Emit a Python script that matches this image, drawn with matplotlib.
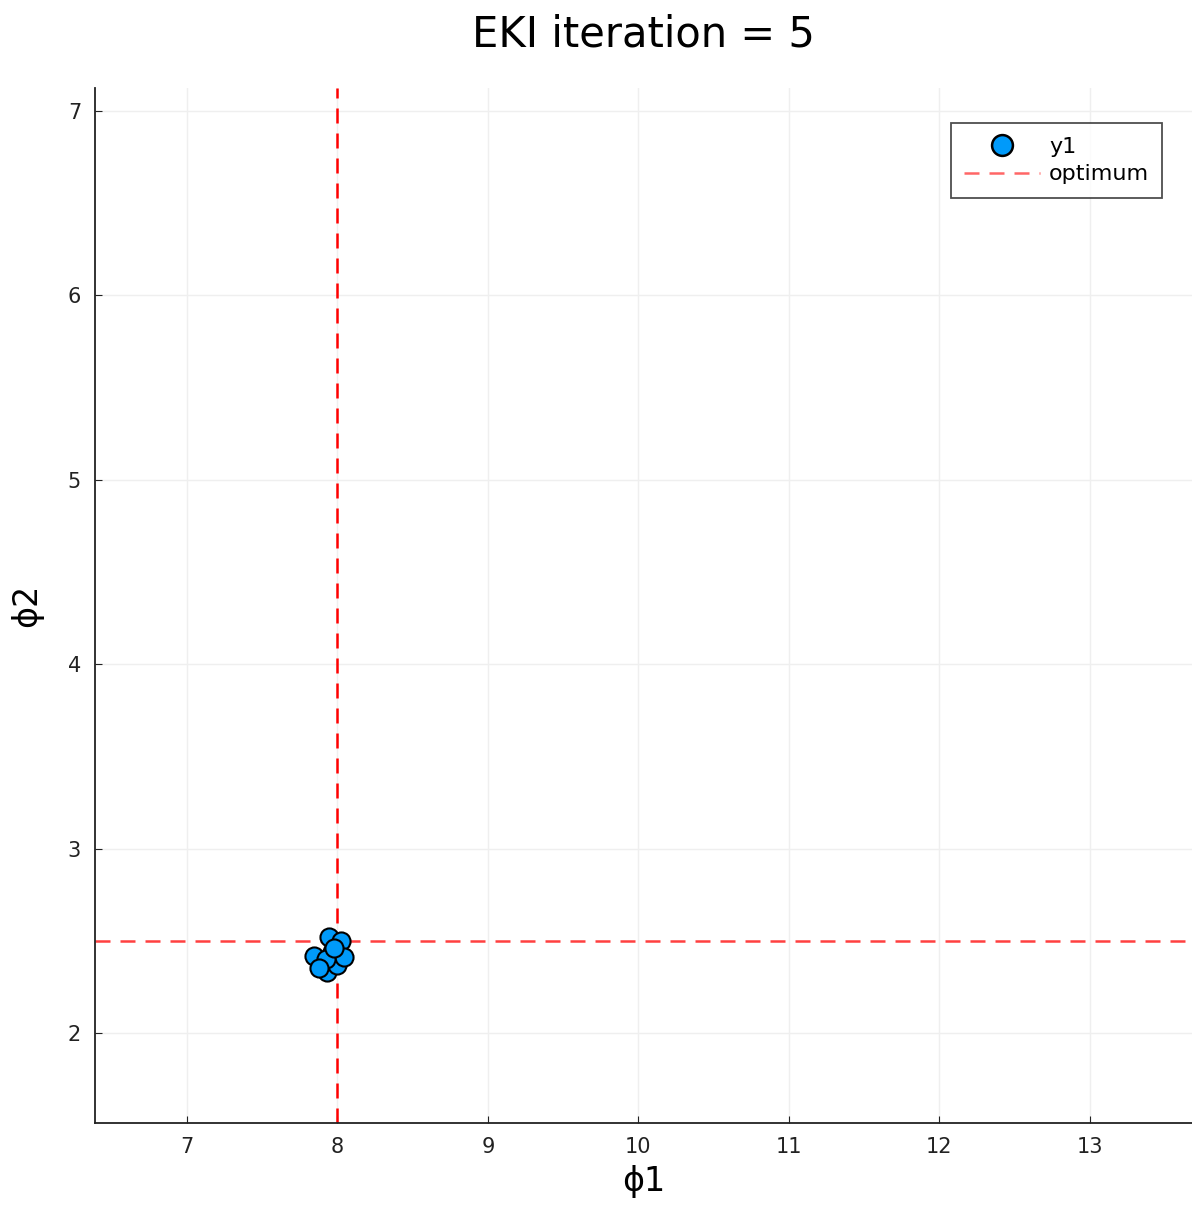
import matplotlib
matplotlib.use("Agg")
import matplotlib.pyplot as plt
from matplotlib.lines import Line2D

phi1 = [7.947, 7.847, 7.967, 8.027, 7.934, 8.0, 8.047, 7.927, 7.88, 7.98]
phi2 = [2.52, 2.42, 2.44, 2.50, 2.33, 2.37, 2.41, 2.40, 2.35, 2.46]
opt_x = 8.0
opt_y = 2.5
xticks = [7, 8, 9, 10, 11, 12, 13]
yticks = [2, 3, 4, 5, 6, 7]

fig = plt.figure(figsize=(11.92, 12.07), dpi=100)
ax = fig.add_axes([95/1192, 84/1207, 1 - 95/1192, (1123-88)/1207])
ax.set_xlim(6.389, 13.68)
ax.set_ylim(1.512, 7.125)
ax.grid(True, color="#efefef", linewidth=1)
ax.set_axisbelow(True)
for s in ["top", "right"]:
    ax.spines[s].set_visible(False)
for s in ["left", "bottom"]:
    ax.spines[s].set_color("#222222")
    ax.spines[s].set_linewidth(1.3)

ax.axvline(opt_x, color="red", linestyle=(0, (6, 4)), linewidth=1.8, zorder=2)
ax.axhline(opt_y, color="red", linestyle=(0, (6, 4)), linewidth=1.8, alpha=0.75, zorder=2)
ax.scatter(phi1, phi2, s=170, color="#009AFA", edgecolors="black", linewidths=1.5, zorder=3)

ax.set_xticks(xticks)
ax.set_yticks(yticks)
ax.tick_params(labelsize=15, length=5, direction="in", colors="#222222", pad=10)
ax.set_xlabel("ϕ1", fontsize=24, labelpad=6)
ax.set_ylabel("ϕ2", fontsize=24, labelpad=18)
ax.set_title("EKI iteration = 5", fontsize=30, pad=30)

handles = [
    Line2D([], [], marker="o", linestyle="none", markersize=15, markerfacecolor="#009AFA",
           markeredgecolor="black", markeredgewidth=1.8),
    Line2D([], [], color="red", alpha=0.6, linestyle=(0, (6, 4)), linewidth=1.8),
]
leg = ax.legend(handles, ["y1", "optimum"], loc="upper right", bbox_to_anchor=(0.973, 0.966),
                borderaxespad=0, fontsize=16, frameon=True, fancybox=False, edgecolor="#222222",
                handlelength=3.4, borderpad=0.6, labelspacing=0.35, handletextpad=0.4)
leg.get_frame().set_linewidth(1.3)

fig.savefig("out.png", dpi=100)
